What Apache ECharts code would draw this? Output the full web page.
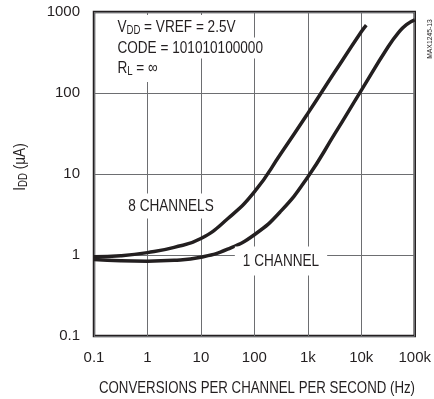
<!DOCTYPE html>
<html>
<head>
<meta charset="utf-8">
<script src="https://cdn.jsdelivr.net/npm/echarts@6/dist/echarts.min.js"></script>
<style>
html,body{margin:0;padding:0;background:#fff;}
#c{width:434px;height:399px;}
</style>
</head>
<body>
<div id="c"></div>
<script>
// Data
const freq8 = [0.1, 0.316, 1, 3.16, 10, 31.6, 100, 316, 1000, 3160, 10000, 12400];
const idd8  = [0.95, 0.98, 1.07, 1.24, 1.6, 2.8, 6.0, 18, 56, 180, 570, 690];
const freq1 = [0.1, 0.316, 1, 3.16, 10, 31.6, 100, 316, 1000, 3160, 10000, 31600, 50000, 70000, 100000];
const idd1  = [0.88, 0.85, 0.84, 0.86, 0.94, 1.18, 1.78, 3.5, 9.2, 31, 108, 370, 560, 700, 800];
const xTickLabels = ['0.1', '1', '10', '100', '1k', '10k', '100k'];
const yTickLabels = ['0.1', '1', '10', '100', '1000'];
const seriesNames = ['8 CHANNELS', '1 CHANNEL'];
const xTitle = 'CONVERSIONS PER CHANNEL PER SECOND (Hz)';

const FONT = '"Liberation Sans", Arial, sans-serif';
const TXT = '#231f20';
const SX = 0.8;

const chart = echarts.init(document.getElementById('c'), null, {renderer: 'canvas'});
const pairs = (xs, ys) => xs.map((x, i) => [x, ys[i]]);
const sub = {
  n: {fontFamily: FONT, fontSize: 17, fill: TXT, lineHeight: 20},
  s: {fontFamily: FONT, fontSize: 12, fill: TXT, lineHeight: 20, verticalAlign: 'bottom', padding: [9, 0, 0, 0]}
};

chart.setOption({
  animation: false,
  backgroundColor: '#fff',
  grid: {left: 94, right: 15, top: 12, bottom: 63, show: true, borderColor: '#231f20', borderWidth: 2.5, backgroundColor: 'transparent'},
  xAxis: {
    type: 'log', logBase: 10, min: 0.1, max: 100000,
    axisLine: {show: false},
    axisTick: {show: false},
    minorTick: {show: false},
    splitLine: {show: true, lineStyle: {color: '#6d6e71', width: 1}},
    axisLabel: {
      fontFamily: FONT, fontSize: 15, color: TXT, margin: 14,
      formatter: v => xTickLabels[Math.round(Math.log10(v)) + 1] || ''
    }
  },
  yAxis: {
    type: 'log', logBase: 10, min: 0.1, max: 1000,
    axisLine: {show: false},
    axisTick: {show: false},
    minorTick: {show: false},
    splitLine: {show: true, lineStyle: {color: '#6d6e71', width: 1}},
    axisLabel: {
      fontFamily: FONT, fontSize: 15, color: TXT, margin: 14,
      formatter: v => yTickLabels[Math.round(Math.log10(v)) + 1] || ''
    }
  },
  series: [
    {name: seriesNames[0], type: 'line', data: pairs(freq8, idd8), smooth: 0.5, symbol: 'none',
     lineStyle: {color: '#231f20', width: 3.5}, z: 3},
    {name: seriesNames[1], type: 'line', data: pairs(freq1, idd1), smooth: 0.5, symbol: 'none',
     lineStyle: {color: '#231f20', width: 3.5}, z: 3}
  ],
  graphic: [
    {type: 'text', x: 115, y: 27, z: 10, scaleX: SX, style: {
      text: '{n|V}{s|DD}{n| = VREF = 2.5V}', verticalAlign: 'middle',
      backgroundColor: '#fff', padding: [2, 3, 2, 3], rich: sub}},
    {type: 'text', x: 115, y: 48, z: 10, scaleX: SX, style: {
      text: 'CODE = 101010100000', verticalAlign: 'middle', fontFamily: FONT, fontSize: 17, fill: TXT,
      backgroundColor: '#fff', padding: [2, 3, 2, 3]}},
    {type: 'text', x: 115, y: 69, z: 10, scaleX: SX, style: {
      text: '{n|R}{s|L}{n| = ∞}', verticalAlign: 'middle',
      backgroundColor: '#fff', padding: [2, 3, 4, 3], rich: sub}},
    {type: 'text', x: 171, y: 206, z: 10, scaleX: SX, style: {
      text: seriesNames[0], align: 'center', verticalAlign: 'middle', fontFamily: FONT, fontSize: 17, fill: TXT,
      backgroundColor: '#fff', padding: [4, 6, 4, 6]}},
    {type: 'text', x: 281, y: 261, z: 10, scaleX: SX, style: {
      text: seriesNames[1], align: 'center', verticalAlign: 'middle', fontFamily: FONT, fontSize: 17, fill: TXT,
      backgroundColor: '#fff', padding: [6, 10, 6, 10]}},
    {type: 'text', x: 257, y: 388, z: 10, scaleX: 0.78, style: {
      text: xTitle, align: 'center', verticalAlign: 'middle', fontFamily: FONT, fontSize: 17, fill: TXT}},
    {type: 'text', x: 20, y: 167, z: 10, rotation: Math.PI / 2, scaleX: SX, style: {
      text: '{n|I}{s|DD}{n| (µA)}', align: 'center', verticalAlign: 'middle', rich: sub}},
    {type: 'text', x: 430, y: 39, z: 10, rotation: Math.PI / 2, scaleX: 0.85, style: {
      text: 'MAX1245-13', align: 'center', verticalAlign: 'middle', fontFamily: FONT, fontSize: 8, fill: TXT}}
  ]
});
</script>
</body>
</html>
